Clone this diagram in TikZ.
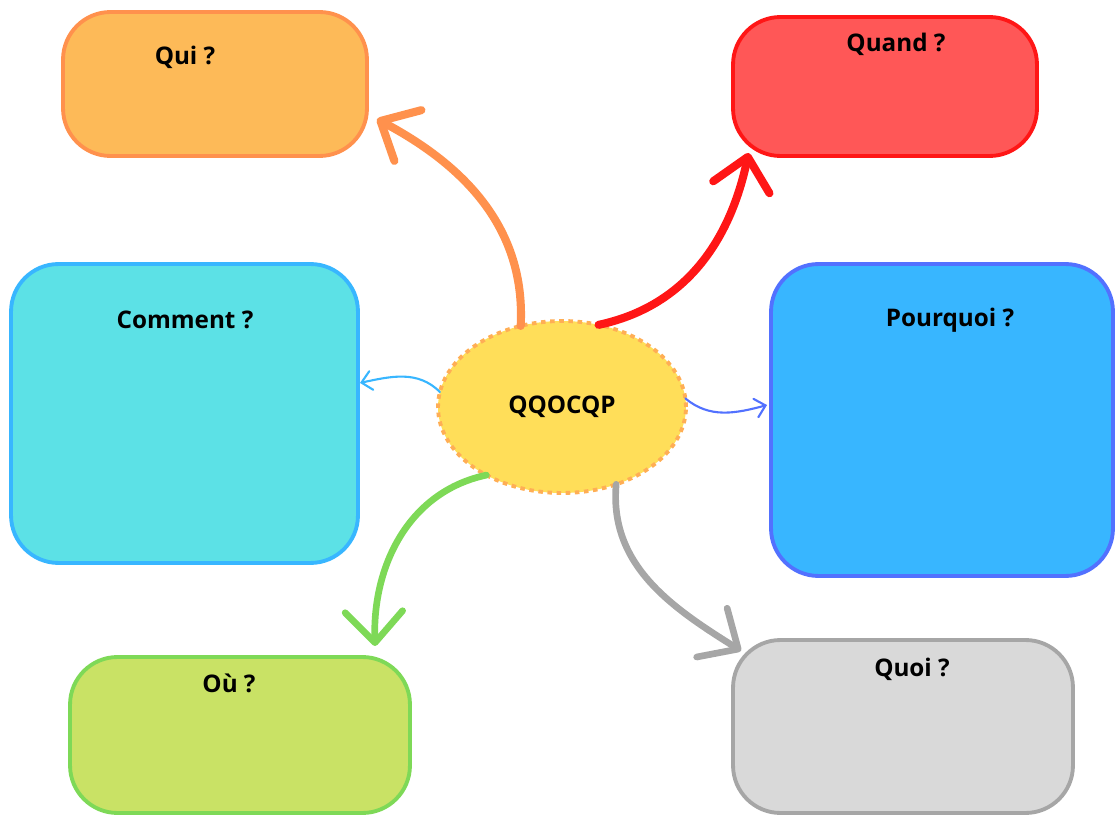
\documentclass[tikz,border=0pt]{standalone}
\usepackage{fontspec}
\setmainfont{Open Sans}
\usepackage{tikz}
\usetikzlibrary{shapes.geometric, arrows.meta}
\definecolor{quiFond}{HTML}{FDBA58}
\definecolor{quiBord}{HTML}{FF914D}
\definecolor{quandFond}{HTML}{FF5757}
\definecolor{quandBord}{HTML}{FF1616}
\definecolor{commentFond}{HTML}{5CE1E6}
\definecolor{commentBord}{HTML}{38B6FF}
\definecolor{pourquoiFond}{HTML}{38B6FF}
\definecolor{pourquoiBord}{HTML}{5271FF}
\definecolor{ouFond}{HTML}{C9E265}
\definecolor{ouBord}{HTML}{7ED957}
\definecolor{quoiFond}{HTML}{D9D9D9}
\definecolor{quoiBord}{HTML}{A6A6A6}
\definecolor{centreFond}{HTML}{FFDE59}
\definecolor{centreBord}{HTML}{FFAE55}
\tikzstyle{block} = [rectangle, draw, line width=2.2pt, rounded corners=0.95cm,
                 inner sep=0pt, outer sep=0pt]
\tikzstyle{branch} = [line width=4.6pt, line cap=round,
                 -{Straight Barb[length=0.62cm, width=1.15cm, line cap=round, round]}]
\tikzstyle{twig} = [line width=1.2pt, line cap=round,
                 -{Straight Barb[length=0.2cm, width=0.38cm, line cap=round]}]
\tikzset{
	titre/.style={font=\bfseries\fontsize{13.8}{16}\selectfont, inner sep=0pt},
}

\begin{document}
\begin{tikzpicture}[x=0.02cm, y=0.02cm]

\useasboundingbox (0,0) rectangle (1116,816);

\node [block, fill=quiFond, draw=quiBord, minimum width=6.08cm, minimum height=2.88cm] at (215,732) (qui) {};
\node [block, fill=quandFond, draw=quandBord, minimum width=6.08cm, minimum height=2.78cm] at (885,729.5) (quand) {};
\node [block, fill=commentFond, draw=commentBord, minimum width=6.94cm, minimum height=5.98cm] at (184.5,402.5) (comment) {};
\node [block, fill=pourquoiFond, draw=pourquoiBord, minimum width=6.84cm, minimum height=6.24cm] at (942,396) (pourquoi) {};
\node [block, fill=ouFond, draw=ouBord, minimum width=6.8cm, minimum height=3.12cm] at (240,81) (ou) {};
\node [block, fill=quoiFond, draw=quoiBord, minimum width=6.8cm, minimum height=3.46cm] at (903,89.5) (quoi) {};

\node [ellipse, fill=centreFond, draw=centreBord, line width=2.2pt, dash pattern=on 2.6pt off 2.6pt,
	minimum width=4.96cm, minimum height=3.44cm, inner sep=0pt, outer sep=0pt,
	font=\bfseries\fontsize{13.8}{16}\selectfont] at (562,409) (qq) {QQOCQP};

% titres
\node [titre] at (185,759) (tqui) {Qui ?};
\node [titre] at (896,772) (tquand) {Quand ?};
\node [titre] at (185,496) (tcomment) {Comment ?};
\node [titre] at (950,496) (tpourquoi) {Pourquoi ?};
\node [titre] at (229,133) (tou) {Où ?};
\node [titre] at (912,147) (tquoi) {Quoi ?};

% fleches
\draw [branch, quiBord] (qq.117) to[out=87, in=-28] ([xshift=0.2cm]qui.-13);
\draw [branch, quandBord] (qq.66) to[out=12, in=-102] ([yshift=0.06cm]quand.207);
\draw [twig, commentBord] (qq.173) to[out=135, in=12] ([xshift=0.04cm]comment.10);
\draw [twig, pourquoiBord] (qq.4) to[out=-40, in=195] ([xshift=-0.08cm]pourquoi.175);
\draw [branch, ouBord, line width=3.8pt] (qq.222) to[out=192, in=92] ([yshift=0.22cm]ou.30);
\draw [branch, quoiBord, line width=3.8pt] (qq.-55) to[out=-95, in=148] ([xshift=0.16cm]quoi.156);

\end{tikzpicture}
\end{document}
